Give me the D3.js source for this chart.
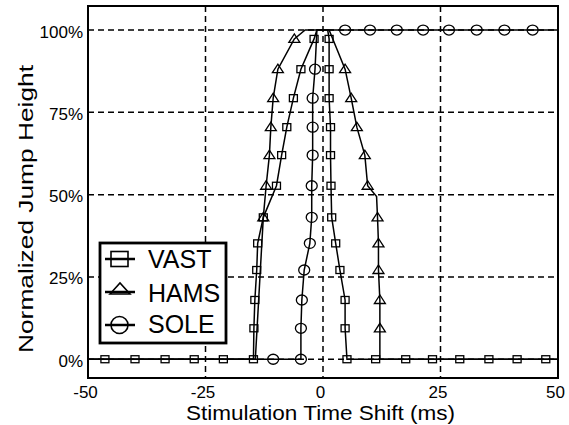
<!DOCTYPE html>
<html><head><meta charset="utf-8">
<script src="https://cdn.jsdelivr.net/npm/d3@7"></script>
<style>html,body{margin:0;padding:0;background:#fff;} svg{display:block;}</style>
</head><body>
<svg id="c" width="569" height="425"></svg>
<script>
const xTicks = [-50, -25, 0, 25, 50];
const yTicks = [0, 25, 50, 75, 100];
const legendNames = ["VAST", "HAMS", "SOLE"];
const xTitle = "Stimulation Time Shift (ms)";
const yTitle = "Normalized Jump Height";
// [time shift (ms), normalized jump height (%), marker shown (1) / not (0)]
const vast = [[-50,0,0],[-46.4,0,1],[-40.0,0,1],[-33.6,0,1],[-27.4,0,1],[-21.2,0,1],[-14.8,0,1],
  [-14.7,9.4,1],[-14.5,18.0,1],[-14.1,27.1,1],[-13.9,35.2,1],[-12.7,43.1,1],[-9.9,52.7,1],
  [-8.8,62.0,1],[-7.7,70.5,1],[-6.3,79.3,1],[-4.7,88.1,1],[-1.9,97.3,1],[-1.3,100,0],[1.0,100,0],
  [1.3,97.3,1],[1.3,88.1,1],[1.3,79.3,1],[1.6,70.5,1],[1.6,62.0,1],[1.7,52.7,1],[1.85,43.1,1],
  [2.7,35.2,1],[3.6,27.1,1],[4.7,18.0,1],[4.7,9.4,1],[5.1,0,1],[11.2,0,1],[17.6,0,1],[23.3,0,1],
  [29.1,0,1],[35.3,0,1],[41.3,0,1],[47.4,0,1],[50,0,0]];
const hams = [[-50,0,0],[-14.4,0,0],[-12.7,43.1,1],[-12.1,52.7,1],[-11.4,62.0,1],[-11.1,70.5,1],
  [-10.6,79.3,1],[-9.6,88.1,1],[-6.1,97.3,1],[-3.8,100,0],[1.3,100,0],[4.7,88.1,1],[6.0,79.3,1],
  [7.2,70.5,1],[8.9,62.0,1],[9.5,52.7,1],[11.4,49.4,0],[11.6,43.1,1],[11.8,35.2,1],[11.8,27.1,1],
  [12.1,18.0,1],[12.1,9.4,1],[12.1,0,0],[50,0,0]];
const sole = [[-50,0,0],[-10.6,0,1],[-4.7,0,1],[-4.7,9.4,1],[-4.5,18.0,1],[-4.0,27.1,1],[-2.8,35.2,1],
  [-2.4,43.1,1],[-2.4,52.7,1],[-2.2,62.0,1],[-2.2,70.5,1],[-2.2,79.3,1],[-1.7,88.1,1],[-1.3,100,0],
  [4.7,100,1],[10.0,100,1],[15.7,100,1],[21.3,100,1],[26.8,100,1],[32.7,100,1],[38.6,100,1],
  [44.6,100,1],[50,100,0]];

const FONT = "'Liberation Sans', Arial, sans-serif";
const svg = d3.select("#c");
const L = 88, R = 558, T = 6, B = 378;
const x = d3.scaleLinear().domain([-50, 50]).range([L, R]);
const y = d3.scaleLinear().domain([-5.7, 107.3]).range([B, T]);

// grid
const grid = svg.append("g").attr("stroke", "#000").attr("stroke-width", 1.5).attr("stroke-dasharray", "6,4");
grid.selectAll("line.v").data(xTicks.filter(d => d > -50 && d < 50)).join("line")
  .attr("x1", d => x(d)).attr("x2", d => x(d)).attr("y1", T).attr("y2", B);
grid.selectAll("line.h").data(yTicks).join("line")
  .attr("x1", L).attr("x2", R).attr("y1", d => y(d)).attr("y2", d => y(d));

// axes
const xa = svg.append("g").attr("transform", `translate(0,${B})`)
  .call(d3.axisBottom(x).tickValues(xTicks).tickSize(0).tickFormat(d => d));
xa.select(".domain").remove();
xa.selectAll("text").attr("y", 20).attr("dy", 0).attr("dx", -3)
  .attr("font-family", FONT).attr("font-size", 17).attr("fill", "#000");
const ya = svg.append("g").attr("transform", `translate(${L},0)`)
  .call(d3.axisLeft(y).tickValues(yTicks).tickSize(0).tickFormat(d => d + "%"));
ya.select(".domain").remove();
ya.selectAll("text").attr("x", -5).attr("dy", 7)
  .attr("font-family", FONT).attr("font-size", 17).attr("fill", "#000");

// titles
svg.append("text").attr("x", 320.5).attr("y", 420).attr("text-anchor", "middle")
  .attr("font-family", FONT).attr("font-size", 21).attr("textLength", 269)
  .attr("lengthAdjust", "spacingAndGlyphs").text(xTitle);
svg.append("text").attr("transform", "translate(32.5,209) rotate(-90)").attr("text-anchor", "middle")
  .attr("font-family", FONT).attr("font-size", 21).attr("textLength", 288)
  .attr("lengthAdjust", "spacingAndGlyphs").text(yTitle);

// lines
const line = d3.line().x(d => x(d[0])).y(d => y(d[1]));
const all = [vast, hams, sole];
svg.append("g").selectAll("path").data(all).join("path")
  .attr("d", line).attr("fill", "none").attr("stroke", "#000").attr("stroke-width", 1.5);

// markers
function sq(g, cx, cy, w, h, sw) {
  g.append("rect").attr("x", cx - w / 2).attr("y", cy - h / 2).attr("width", w).attr("height", h)
    .attr("fill", "none").attr("stroke", "#000").attr("stroke-width", sw);
}
function tri(g, cx, cy, w, top, bot, sw) {
  g.append("path").attr("d", `M${cx - w / 2},${cy + bot}L${cx},${cy - top}L${cx + w / 2},${cy + bot}Z`)
    .attr("fill", "none").attr("stroke", "#000").attr("stroke-width", sw);
}
function circ(g, cx, cy, rx, ry, sw) {
  g.append("ellipse").attr("cx", cx).attr("cy", cy).attr("rx", rx).attr("ry", ry)
    .attr("fill", "none").attr("stroke", "#000").attr("stroke-width", sw);
}
const mg = svg.append("g");
vast.filter(d => d[2]).forEach(d => sq(mg, x(d[0]), y(d[1]), 8, 7, 1.3));
hams.filter(d => d[2]).forEach(d => tri(mg, x(d[0]), y(d[1]), 11, 5, 3.5, 1.3));
sole.filter(d => d[2]).forEach(d => circ(mg, x(d[0]), y(d[1]), 5.5, 5, 1.3));

// frame
svg.append("rect").attr("x", L).attr("y", T).attr("width", R - L).attr("height", B - T)
  .attr("fill", "none").attr("stroke", "#000").attr("stroke-width", 2);

// legend
const lg = svg.append("g");
lg.append("rect").attr("x", 100).attr("y", 243).attr("width", 126).attr("height", 100)
  .attr("fill", "#fff").attr("stroke", "#000").attr("stroke-width", 2.8);
const ly = [259, 292, 325];
const lb = [268, 301.7, 333.3];
legendNames.forEach((n, i) => {
  lg.append("line").attr("x1", 105).attr("x2", 135).attr("y1", ly[i]).attr("y2", ly[i])
    .attr("stroke", "#000").attr("stroke-width", 2.5);
  if (i === 0) sq(lg, 119.5, ly[i], 17, 15, 1.6);
  if (i === 1) tri(lg, 120, ly[i], 20, 9, 2, 1.6);
  if (i === 2) circ(lg, 119.5, ly[i], 8.5, 8.5, 1.6);
  lg.append("text").attr("x", 148).attr("y", lb[i]).attr("font-family", FONT)
    .attr("font-size", 25).text(n);
});
</script>
</body></html>
